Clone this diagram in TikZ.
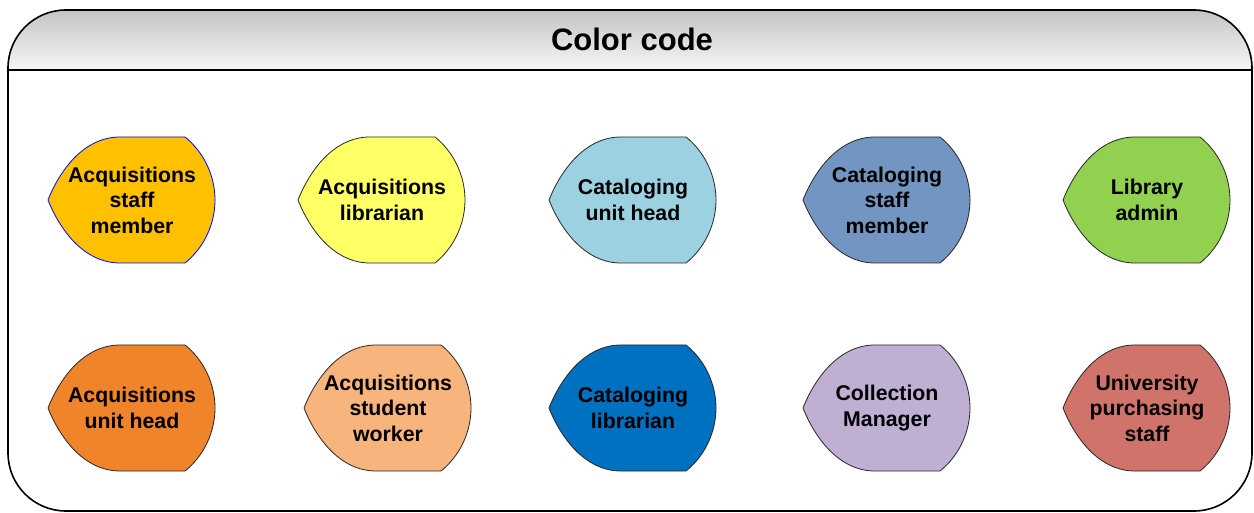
\documentclass[tikz,border=0pt]{standalone}
\usepackage{fontspec}
\setmainfont{Liberation Sans}
\definecolor{cA}{HTML}{FFC000}
\definecolor{cB}{HTML}{FFFF66}
\definecolor{cC}{HTML}{9BD1E0}
\definecolor{cD}{HTML}{7295C1}
\definecolor{cE}{HTML}{92D050}
\definecolor{cF}{HTML}{F0842A}
\definecolor{cG}{HTML}{F8B47D}
\definecolor{cH}{HTML}{0070C0}
\definecolor{cI}{HTML}{BFB0D3}
\definecolor{cJ}{HTML}{CF736B}
\definecolor{hdrtop}{HTML}{C4C4C4}
\definecolor{hdrbot}{HTML}{F6F6F6}
\tikzset{
  rolebox/.style={draw=black!85, line width=0.8bp},
  roletext/.style={align=center, text=black, font=\fontsize{21.3bp}{25.5bp}\selectfont\bfseries, inner sep=0pt},
  frameline/.style={draw=black, line width=1.6bp},
  titletext/.style={font=\fontsize{31bp}{36bp}\selectfont\bfseries, inner sep=0pt}
}
% #1 name, #2 left x, #3 mid y, #4 fill, #5 border, #6 text
\newcommand\rolenode[6]{%
  \filldraw[rolebox, fill=#4, draw=#5]
    ({#2},{#3}) .. controls ({#2+12},{#3-30}) and ({#2+36},{#3-63}) .. ({#2+72},{#3-63})
    -- ({#2+137},{#3-63})
    .. controls ({#2+155.9},{#3-47.9}) and ({#2+167},{#3-24.2}) .. ({#2+167},{#3})
    .. controls ({#2+167},{#3+24.2}) and ({#2+155.9},{#3+47.9}) .. ({#2+137},{#3+63})
    -- ({#2+72},{#3+63})
    .. controls ({#2+36},{#3+63}) and ({#2+12},{#3+30}) .. ({#2},{#3}) -- cycle;
  \node[roletext] (#1) at ({#2+84},{#3}) {#6};%
}
\begin{document}
\begin{tikzpicture}[x=1bp,y=-1bp]
\useasboundingbox (0,0) rectangle (1254,513);
% header shading
\shade[top color=hdrtop, bottom color=hdrbot]
  (8,70) [rounded corners=58bp] -- (8,10) -- (1252,10) [sharp corners] -- (1252,70) -- cycle;
% frame
\draw[frameline, rounded corners=58bp] (8,10) rectangle (1252,511);
\draw[frameline] (8,70) -- (1252,70);
\node[titletext] (title) at (632,39) {Color code};
% row 1
\rolenode{acqstaff}{48}{200}{cA}{blue}{Acquisitions\\staff\\member}
\rolenode{acqlib}{298}{200}{cB}{black!85}{Acquisitions\\librarian}
\rolenode{catunit}{549}{200}{cC}{black!85}{Cataloging\\unit head}
\rolenode{catstaff}{803}{200}{cD}{black!85}{Cataloging\\staff\\member}
\rolenode{libadmin}{1063}{200}{cE}{black!85}{Library\\admin}
% row 2
\rolenode{acqunit}{48}{408}{cF}{black!85}{Acquisitions\\unit head}
\rolenode{acqstud}{304}{408}{cG}{black!85}{Acquisitions\\student\\worker}
\rolenode{catlib}{549}{408}{cH}{black!85}{Cataloging\\librarian}
\rolenode{collmgr}{803}{408}{cI}{black!85}{Collection\\Manager}
\rolenode{univ}{1063}{408}{cJ}{black!85}{University\\purchasing\\staff}
\end{tikzpicture}
\end{document}
